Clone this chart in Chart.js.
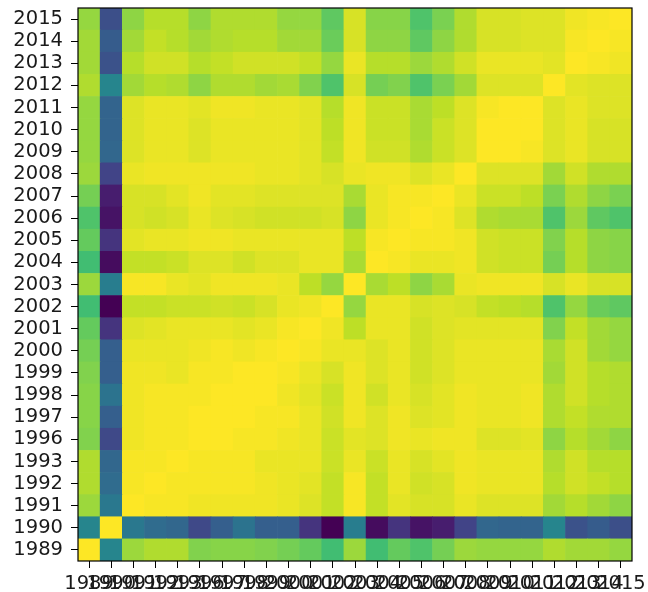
<!DOCTYPE html>
<html>
<head>
<meta charset="utf-8">
<script src="https://cdn.jsdelivr.net/npm/chart.js@4.4.1/dist/chart.umd.min.js"></script>
<style>
  body { margin: 0; background: #fff; }
  #wrap { width: 648px; height: 592px; }
</style>
</head>
<body>
<div id="wrap"><canvas id="heat"></canvas></div>
<script>
// years on both axes (1994 and 1995 are not in the data)
const years = ['1989', '1990', '1991', '1992', '1993', '1996', '1997', '1998', '1999', '2000',
    '2001', '2002', '2003', '2004', '2005', '2006', '2007', '2008', '2009', '2010',
    '2011', '2012', '2013', '2014', '2015']

// lower triangle of the year x year matrix, row i holds columns 0..i
const lowerRows = [
    [1.00],
    [0.45, 1.00],
    [0.85, 0.40, 1.00],
    [0.88, 0.35, 0.99, 1.00],
    [0.88, 0.33, 0.99, 0.99, 1.00],
    [0.81, 0.22, 0.98, 0.99, 0.99, 1.00],
    [0.82, 0.30, 0.98, 0.99, 0.99, 1.00, 1.00],
    [0.82, 0.38, 0.98, 0.99, 0.99, 0.99, 1.00, 1.00],
    [0.81, 0.30, 0.98, 0.98, 0.97, 0.99, 0.99, 1.00, 1.00],
    [0.79, 0.30, 0.97, 0.97, 0.97, 0.98, 0.99, 0.98, 0.99, 1.00],
    [0.76, 0.15, 0.95, 0.96, 0.97, 0.97, 0.97, 0.96, 0.97, 0.99, 1.00],
    [0.69, 0.00, 0.91, 0.91, 0.92, 0.92, 0.93, 0.92, 0.94, 0.97, 0.98, 1.00],
    [0.85, 0.42, 0.99, 0.99, 0.97, 0.96, 0.98, 0.98, 0.98, 0.97, 0.90, 0.84, 1.00],
    [0.69, 0.03, 0.91, 0.91, 0.92, 0.95, 0.95, 0.93, 0.95, 0.95, 0.97, 0.97, 0.87, 1.00],
    [0.76, 0.15, 0.96, 0.97, 0.97, 0.98, 0.98, 0.97, 0.97, 0.97, 0.97, 0.97, 0.90, 0.99, 1.00],
    [0.72, 0.05, 0.94, 0.93, 0.94, 0.97, 0.95, 0.94, 0.93, 0.93, 0.93, 0.94, 0.83, 0.97, 0.99, 1.00],
    [0.79, 0.08, 0.94, 0.94, 0.96, 0.98, 0.96, 0.96, 0.95, 0.95, 0.95, 0.95, 0.87, 0.97, 0.99, 0.99, 1.00],
    [0.85, 0.20, 0.97, 0.98, 0.98, 0.98, 0.98, 0.98, 0.97, 0.97, 0.96, 0.94, 0.97, 0.98, 0.98, 0.95, 0.97, 1.00],
    [0.84, 0.33, 0.95, 0.97, 0.97, 0.95, 0.97, 0.97, 0.97, 0.97, 0.96, 0.91, 0.98, 0.93, 0.93, 0.88, 0.92, 0.95, 1.00],
    [0.84, 0.32, 0.95, 0.97, 0.97, 0.95, 0.97, 0.97, 0.97, 0.97, 0.96, 0.90, 0.98, 0.92, 0.92, 0.87, 0.92, 0.95, 1.00, 1.00],
    [0.84, 0.32, 0.95, 0.97, 0.97, 0.96, 0.98, 0.98, 0.97, 0.97, 0.96, 0.89, 0.98, 0.92, 0.92, 0.87, 0.90, 0.95, 0.99, 1.00, 1.00],
    [0.88, 0.45, 0.86, 0.89, 0.88, 0.83, 0.88, 0.88, 0.86, 0.87, 0.81, 0.72, 0.94, 0.79, 0.81, 0.72, 0.80, 0.86, 0.95, 0.95, 0.95, 1.00],
    [0.86, 0.25, 0.89, 0.93, 0.93, 0.89, 0.91, 0.93, 0.93, 0.93, 0.91, 0.84, 0.97, 0.89, 0.89, 0.85, 0.88, 0.93, 0.97, 0.97, 0.97, 0.96, 1.00],
    [0.86, 0.29, 0.86, 0.91, 0.89, 0.86, 0.88, 0.89, 0.89, 0.86, 0.86, 0.77, 0.94, 0.83, 0.83, 0.75, 0.83, 0.88, 0.94, 0.94, 0.95, 0.95, 0.99, 1.00],
    [0.84, 0.24, 0.83, 0.89, 0.89, 0.83, 0.88, 0.88, 0.88, 0.84, 0.84, 0.75, 0.94, 0.82, 0.82, 0.72, 0.80, 0.88, 0.94, 0.94, 0.95, 0.95, 0.98, 0.99, 1.00]
]

// full symmetric value
function cell(r, c) {
    return r >= c ? lowerRows[r][c] : lowerRows[c][r]
}

// viridis stops, 0 to 1 in steps of 0.1
const viridisStops = ['#440154', '#482475', '#414487', '#355f8d', '#2a788e', '#21918c',
    '#22a884', '#44bf70', '#7ad151', '#bddf26', '#fde725']

function hexRgb(h) {
    return [1, 3, 5].map(i => parseInt(h.substr(i, 2), 16))
}

function viridis(t) {
    t = Math.max(0, Math.min(1, t))
    const pos = t * (viridisStops.length - 1)
    const i = Math.min(Math.floor(pos), viridisStops.length - 2)
    const f = pos - i
    const a = hexRgb(viridisStops[i]), b = hexRgb(viridisStops[i + 1])
    const rgb = a.map((v, k) => Math.round(v + (b[k] - v) * f))
    return 'rgb(' + rgb.join(',') + ')'
}

const allValues = lowerRows.flat()
const vMin = Math.min(...allValues), vMax = Math.max(...allValues)

// one floating-bar dataset per row, each bar is one cell
const datasets = years.map((y, r) => ({
    label: y,
    data: years.map(() => [r, r + 1]),
    backgroundColor: years.map((_, c) => viridis((cell(r, c) - vMin) / (vMax - vMin))),
    borderWidth: 0,
    barPercentage: 1,
    categoryPercentage: 1,
    grouped: false
}))

// axes frame on all four sides
const frame = {
    id: 'frame',
    afterDatasetsDraw(chart) {
        const a = chart.chartArea, ctx = chart.ctx
        ctx.save()
        ctx.strokeStyle = '#000'
        ctx.lineWidth = 1.2
        ctx.strokeRect(a.left, a.top, a.right - a.left, a.bottom - a.top)
        ctx.restore()
    }
}

Chart.defaults.font.family = 'DejaVu Sans'
Chart.defaults.font.size = 19.5
Chart.defaults.color = '#1a1a1a'

new Chart(document.getElementById('heat'), {
    type: 'bar',
    data: { labels: years, datasets: datasets },
    options: {
        responsive: true,
        maintainAspectRatio: false,
        animation: false,
        layout: { padding: { top: 8, right: 16, left: 0, bottom: 0 } },
        plugins: { legend: { display: false }, tooltip: { enabled: false } },
        scales: {
            x: {
                type: 'category',
                offset: true,
                grid: { offset: false, drawOnChartArea: false, tickLength: 7, tickColor: '#000', tickWidth: 1 },
                border: { display: false },
                ticks: { autoSkip: false, maxRotation: 0, minRotation: 0, padding: 4 },
                afterFit(scale) {
                    scale.height = 31
                    scale.paddingLeft = 0
                    scale.paddingRight = 0
                }
            },
            y: {
                type: 'linear',
                min: 0,
                max: years.length,
                grid: { drawOnChartArea: false, tickLength: 7, tickColor: '#000', tickWidth: 1 },
                border: { display: false },
                afterBuildTicks(scale) {
                    scale.ticks = years.map((_, i) => ({ value: i + 0.5 }))
                },
                ticks: {
                    autoSkip: false,
                    padding: 8,
                    callback: value => years[Math.floor(value)]
                },
                afterFit(scale) {
                    scale.width = 78
                    scale.paddingTop = 0
                    scale.paddingBottom = 0
                }
            }
        }
    },
    plugins: [frame]
})
</script>
</body>
</html>
